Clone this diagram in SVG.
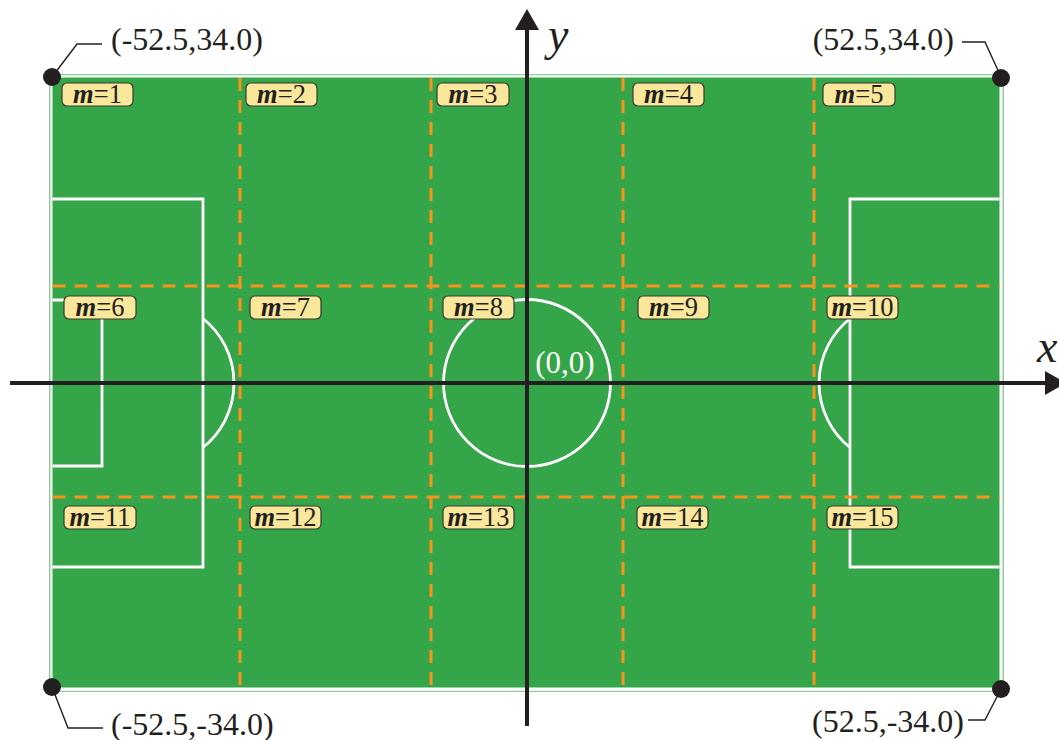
<svg xmlns="http://www.w3.org/2000/svg" width="1059" height="740" viewBox="0 0 1059 740">
<style>
.wl{fill:none;stroke:#ffffff;stroke-width:2.8}
.dz{fill:none;stroke:#f7941d;stroke-width:3;stroke-dasharray:13 9}
.ax{stroke:#231f20;stroke-width:4;fill:none}
.ah{fill:#231f20}
.ld{fill:none;stroke:#231f20;stroke-width:1.4}
.dot{fill:#231f20}
.lb rect{fill:#f9e79b;stroke:#3a3a30;stroke-width:1.2}
.lb text{font-family:"Liberation Serif",serif;font-size:26.5px;fill:#231f20;text-anchor:middle}
.mi{font-weight:bold;font-style:italic}
.co{font-family:"Liberation Serif",serif;font-size:32px;fill:#231f20}
.av{font-family:"Liberation Serif",serif;font-size:46px;font-style:italic;fill:#231f20}
</style>
<rect width="1059" height="740" fill="#ffffff"/>
<g id="field">
<rect x="49" y="74" width="955" height="618" fill="#8dcf98"/>
<rect x="50.5" y="75.3" width="952" height="615.5" fill="#ffffff"/>
<rect x="52.5" y="77.5" width="947" height="610" fill="#34a548"/>
<path class="wl" d="M52.5 199 H203 V567 H52.5"/>
<path class="wl" d="M52.5 300 H102 V466 H52.5"/>
<path class="wl" d="M999.5 199 H850 V567 H999.5"/>
<path class="wl" d="M203 318.5 A82.7 82.7 0 0 1 203 447.5"/>
<path class="wl" d="M850 318.5 A82.7 82.7 0 0 0 850 447.5"/>
<circle class="wl" cx="527" cy="383" r="83.5"/>
</g>
<g id="zones">
<line class="dz" x1="52.5" y1="286" x2="999.5" y2="286"/>
<line class="dz" x1="52.5" y1="497" x2="999.5" y2="497"/>
<line class="dz" x1="240" y1="78" x2="240" y2="687"/>
<line class="dz" x1="431" y1="78" x2="431" y2="687"/>
<line class="dz" x1="623" y1="78" x2="623" y2="687"/>
<line class="dz" x1="814" y1="78" x2="814" y2="687"/>
</g>
<g id="connectors">
<line class="ax" x1="10" y1="383" x2="1046" y2="383"/>
<polygon class="ah" points="1045,371 1066,383 1045,395"/>
<line class="ax" x1="527" y1="726" x2="527" y2="28"/>
<polygon class="ah" points="515,30 527,9 539,30"/>
<polyline class="ld" points="52,77 77,44 102,44"/>
<polyline class="ld" points="1001,77 985,42 962,42"/>
<polyline class="ld" points="52,687 68,728 103,728"/>
<polyline class="ld" points="1001,689 985,720 968,720"/>
</g>
<g id="axis-labels">
<text class="av" x="1037" y="362">x</text>
<text class="av" x="548" y="50">y</text>
<text x="565" y="373" text-anchor="middle" font-family="Liberation Serif, serif" font-size="31" fill="#ffffff">(0,0)</text>
</g>
<g id="corners">
<circle class="dot" cx="52" cy="77" r="9"/>
<circle class="dot" cx="1001" cy="78" r="9"/>
<circle class="dot" cx="52" cy="687" r="9"/>
<circle class="dot" cx="1001" cy="689" r="9"/>
<text class="co" x="111" y="50">(-52.5,34.0)</text>
<text class="co" x="954" y="50" text-anchor="end">(52.5,34.0)</text>
<text class="co" x="111" y="735">(-52.5,-34.0)</text>
<text class="co" x="964" y="732" text-anchor="end">(52.5,-34.0)</text>
</g>
<g id="m1" class="lb"><rect x="62" y="83" width="71" height="23" rx="5"/><text x="97.5" y="103"><tspan class="mi">m</tspan>=1</text></g>
<g id="m2" class="lb"><rect x="246" y="83" width="71" height="23" rx="5"/><text x="281.5" y="103"><tspan class="mi">m</tspan>=2</text></g>
<g id="m3" class="lb"><rect x="437" y="83" width="72" height="23" rx="5"/><text x="473" y="103"><tspan class="mi">m</tspan>=3</text></g>
<g id="m4" class="lb"><rect x="633" y="83" width="71" height="23" rx="5"/><text x="668.5" y="103"><tspan class="mi">m</tspan>=4</text></g>
<g id="m5" class="lb"><rect x="823" y="83" width="72" height="23" rx="5"/><text x="859" y="103"><tspan class="mi">m</tspan>=5</text></g>
<g id="m6" class="lb"><rect x="64" y="296" width="72" height="23" rx="5"/><text x="100" y="316"><tspan class="mi">m</tspan>=6</text></g>
<g id="m7" class="lb"><rect x="250" y="296" width="71" height="23" rx="5"/><text x="285.5" y="316"><tspan class="mi">m</tspan>=7</text></g>
<g id="m8" class="lb"><rect x="443" y="296" width="71" height="23" rx="5"/><text x="478.5" y="316"><tspan class="mi">m</tspan>=8</text></g>
<g id="m9" class="lb"><rect x="638" y="296" width="71" height="23" rx="5"/><text x="673.5" y="316"><tspan class="mi">m</tspan>=9</text></g>
<g id="m10" class="lb"><rect x="827" y="296" width="71" height="23" rx="5"/><text x="862.5" y="316"><tspan class="mi">m</tspan>=10</text></g>
<g id="m11" class="lb"><rect x="64" y="506" width="72" height="23" rx="5"/><text x="100" y="526"><tspan class="mi">m</tspan>=11</text></g>
<g id="m12" class="lb"><rect x="250" y="506" width="71" height="23" rx="5"/><text x="285.5" y="526"><tspan class="mi">m</tspan>=12</text></g>
<g id="m13" class="lb"><rect x="443" y="506" width="71" height="23" rx="5"/><text x="478.5" y="526"><tspan class="mi">m</tspan>=13</text></g>
<g id="m14" class="lb"><rect x="637" y="506" width="71" height="23" rx="5"/><text x="672.5" y="526"><tspan class="mi">m</tspan>=14</text></g>
<g id="m15" class="lb"><rect x="827" y="506" width="71" height="23" rx="5"/><text x="862.5" y="526"><tspan class="mi">m</tspan>=15</text></g>
</svg>
